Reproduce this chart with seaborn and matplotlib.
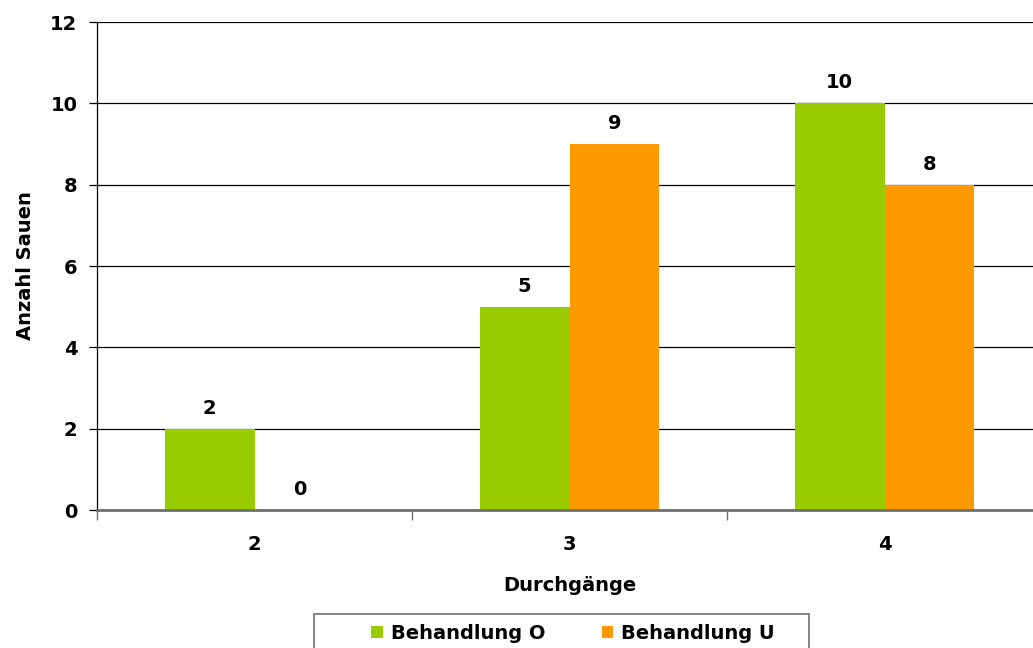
import matplotlib
matplotlib.use("Agg")
import matplotlib.pyplot as plt
import seaborn as sns
import pandas as pd
from matplotlib.patches import Patch, Rectangle

categories = ["2", "3", "4"]
series_names = ["Behandlung O", "Behandlung U"]
values_O = [2, 5, 10]
values_U = [0, 9, 8]
colors = ["#99CC00", "#FF9900"]

df = pd.DataFrame({
    "Durchgänge": categories * 2,
    "Anzahl": values_O + values_U,
    "Serie": [series_names[0]] * 3 + [series_names[1]] * 3,
})

sns.set_theme(style="white")
plt.rcParams['font.family'] = ['DejaVu Sans']
plt.rcParams['font.weight'] = 'bold'
plt.rcParams['text.color'] = 'black'
plt.rcParams['axes.labelcolor'] = 'black'
plt.rcParams['xtick.color'] = 'black'
plt.rcParams['ytick.color'] = 'black'

FS = 14

W, H = 1033, 648
fig = plt.figure(figsize=(W / 100, H / 100), dpi=100)
left, right, top, bottom = 97, 1042, 22, 510
ax = fig.add_axes([left / W, 1 - bottom / H, (right - left) / W, (bottom - top) / H])

sns.barplot(data=df, x="Durchgänge", y="Anzahl", hue="Serie", order=categories,
            hue_order=series_names, palette=colors, width=0.571, saturation=1,
            ax=ax, legend=False, edgecolor="none")

ax.set_xlim(-0.5, 2.5)
ax.set_ylim(0, 12)
ax.set_yticks(range(0, 13, 2))
ax.yaxis.grid(True, color="black", linewidth=0.9)
ax.set_axisbelow(True)
for s in ["top", "right"]:
    ax.spines[s].set_visible(False)
ax.spines["left"].set_color("black")
ax.spines["left"].set_linewidth(0.9)
ax.spines["bottom"].set_color("#707070")
ax.spines["bottom"].set_linewidth(2)

ax.tick_params(axis="y", which="major", direction="out", length=6, width=0.9,
               color="black", labelcolor="black", left=True, labelsize=FS, pad=8)
ax.set_xticks([0, 1, 2])
ax.set_xticklabels(categories, fontsize=FS, fontweight="bold")
ax.tick_params(axis="x", which="major", length=0, pad=18, labelsize=FS, labelcolor="black")
ax.set_xticks([-0.5, 0.5, 1.5, 2.5], minor=True)
ax.tick_params(axis="x", which="minor", direction="out", length=7, width=1,
               color="#707070", bottom=True)
for lab in ax.get_yticklabels():
    lab.set_fontweight("bold")

ax.set_xlabel("Durchgänge", fontsize=FS, fontweight="bold", labelpad=16, color="black")
ax.set_ylabel("Anzahl Sauen", fontsize=FS, fontweight="bold", labelpad=11, color="black")

for cont in ax.containers:
    ax.bar_label(cont, fmt="%d", padding=8, fontsize=FS, fontweight="bold", color="black")

handles = [Patch(facecolor=c, edgecolor="none", label=n) for c, n in zip(colors, series_names)]
leg = fig.legend(handles=handles, loc="upper center", bbox_to_anchor=(573 / W, 1 - 614 / H),
                 ncol=2, frameon=False,
                 prop={"weight": "bold", "size": FS}, handlelength=0.6, handleheight=0.6,
                 handletextpad=0.4, columnspacing=2.9, borderpad=0.5, borderaxespad=0)
for t in leg.get_texts():
    t.set_color("black")

fig.patches.append(Rectangle((314 / W, 1 - 660 / H), (809 - 314) / W, (660 - 614) / H,
                             transform=fig.transFigure, facecolor="none",
                             edgecolor="#707070", linewidth=1.2, zorder=0))

fig.savefig("out.png", dpi=100)
